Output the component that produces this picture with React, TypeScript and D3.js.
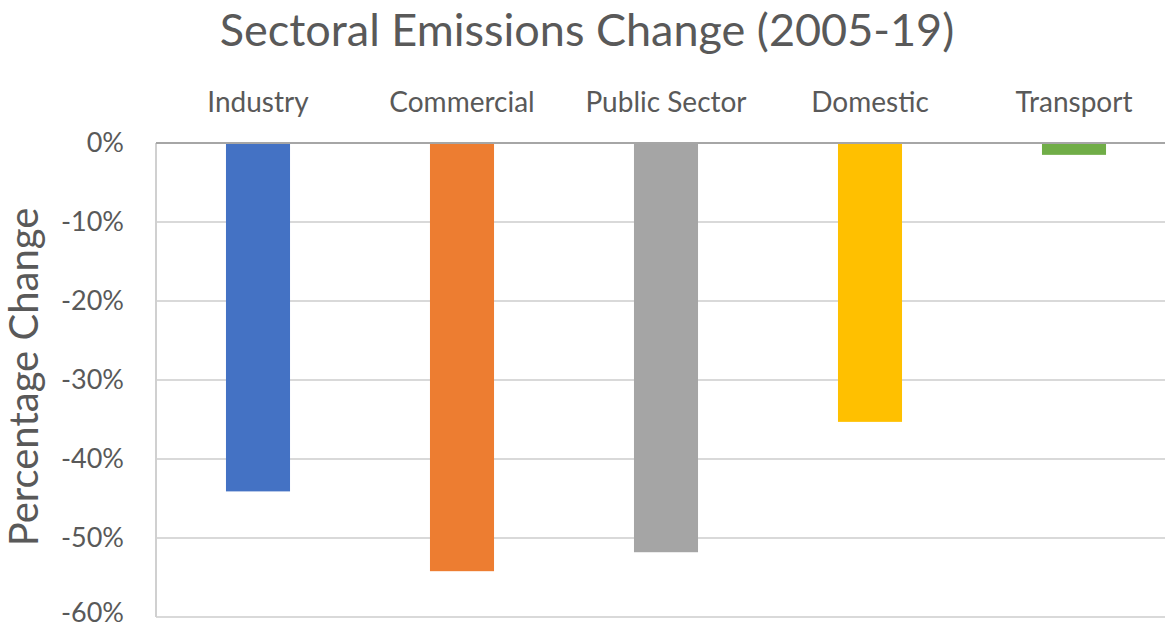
import React, { useEffect, useRef } from 'react';
import * as d3 from 'd3';

const sectors = ['Industry', 'Commercial', 'Public Sector', 'Domestic', 'Transport'];
const changes = [-44.1, -54.2, -51.8, -35.3, -1.5];
const colors = ['#4472C4', '#ED7D31', '#A5A5A5', '#FFC000', '#70AD47'];
const yTicks = [0, -10, -20, -30, -40, -50, -60];

export default function App() {
    const ref = useRef<SVGSVGElement | null>(null);

    useEffect(() => {
        const svg = d3.select(ref.current);
        svg.selectAll('*').remove();
        const width = 1165, height = 630;
        const margin = { top: 143, right: -11, bottom: 13, left: 156 };
        const font = 'Lato, Carlito, Calibri, sans-serif';

        const x = d3.scaleBand<string>()
            .domain(sectors)
            .range([margin.left, width - margin.right])
            .paddingInner(0.686)
            .paddingOuter(0.343);
        const y = d3.scaleLinear().domain([0, -60]).range([margin.top, height - margin.bottom]);

        svg.attr('viewBox', `0 0 ${width} ${height}`);
        svg.append('rect').attr('width', width).attr('height', height).attr('fill', '#fff');

        // gridlines
        svg.append('g').selectAll('line').data(yTicks.filter(t => t !== 0)).join('line')
            .attr('x1', margin.left).attr('x2', width)
            .attr('y1', d => y(d)).attr('y2', d => y(d))
            .attr('stroke', '#D9D9D9').attr('stroke-width', 2);

        // left axis line
        svg.append('line')
            .attr('x1', margin.left).attr('x2', margin.left)
            .attr('y1', y(0)).attr('y2', y(-60))
            .attr('stroke', '#D0D0D0').attr('stroke-width', 2);

        // bars
        svg.append('g').selectAll('rect').data(sectors).join('rect')
            .attr('x', d => x(d)!)
            .attr('width', x.bandwidth())
            .attr('y', y(0))
            .attr('height', (d, i) => y(changes[i]) - y(0))
            .attr('fill', (d, i) => colors[i]);

        // zero line
        svg.append('line')
            .attr('x1', margin.left).attr('x2', width)
            .attr('y1', y(0)).attr('y2', y(0))
            .attr('stroke', '#A6A6A6').attr('stroke-width', 2);

        // y tick labels (bottom one kept inside the frame)
        const tickSize = 27;
        svg.append('g').selectAll('text').data(yTicks).join('text')
            .attr('x', 124)
            .attr('y', d => Math.min(y(d) + tickSize * 0.32, height - 8))
            .attr('text-anchor', 'end')
            .attr('font-family', font)
            .attr('font-size', tickSize)
            .attr('fill', '#595959')
            .text(d => `${d}%`);

        // category labels
        svg.append('g').selectAll('text').data(sectors).join('text')
            .attr('x', d => x(d)! + x.bandwidth() / 2)
            .attr('y', 112)
            .attr('text-anchor', 'middle')
            .attr('font-family', font)
            .attr('font-size', 28)
            .attr('fill', '#595959')
            .text(d => d);

        // title
        svg.append('text')
            .attr('x', 587).attr('y', 46)
            .attr('text-anchor', 'middle')
            .attr('font-family', font)
            .attr('font-size', 45)
            .attr('fill', '#595959')
            .text('Sectoral Emissions Change (2005-19)');

        // y axis title
        svg.append('text')
            .attr('transform', `translate(38, 377) rotate(-90)`)
            .attr('text-anchor', 'middle')
            .attr('font-family', font)
            .attr('font-size', 40)
            .attr('fill', '#595959')
            .text('Percentage Change');
    }, []);

    return <svg ref={ref} width={1165} height={630} style={{ position: 'absolute', top: 0, left: 0, display: 'block' }} />;
}
